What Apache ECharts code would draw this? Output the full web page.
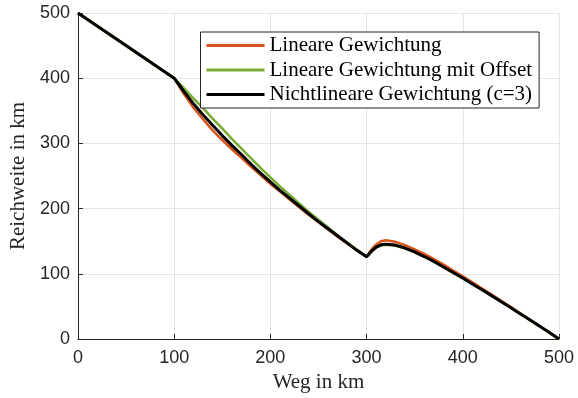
<!DOCTYPE html>
<html>
<head>
<meta charset="utf-8">
<script src="https://cdn.jsdelivr.net/npm/echarts@6/dist/echarts.min.js"></script>
<style>html,body{margin:0;padding:0;background:#fff}#c{width:578px;height:398px}</style>
</head>
<body>
<div id="c"></div>
<script>
var seriesNames = ['Lineare Gewichtung', 'Lineare Gewichtung mit Offset', 'Nichtlineare Gewichtung (c=3)'];
var xTicks = [0, 100, 200, 300, 400, 500];
var yTicks = [0, 100, 200, 300, 400, 500];
var weg = [0, 50, 100, 110, 120, 130, 140, 150, 160, 170, 180, 190, 200, 210, 220, 230, 240, 250, 260, 270, 280, 290, 300,
           303, 306, 310, 315, 320, 330, 340, 350, 360, 370, 380, 390, 400, 410, 420, 430, 440, 450, 460, 470, 480, 490, 500];
var linear = [500, 450, 400, 376, 355, 337, 320, 305, 291, 278, 264, 251, 238, 226, 214, 202, 190, 179, 168, 157, 146, 136, 126,
              133, 139, 145, 150, 151.5, 149, 144, 137.5, 130.5, 122.5, 114, 105, 96, 87, 77.5, 68, 58.5, 49, 39, 29.5, 19.5, 10, 0];
var linearOffset = [500, 450, 400, 385, 369, 354, 338, 323, 307, 292, 277, 262, 248, 234, 221, 208, 195, 183, 171, 159, 148, 137, 126,
                    130, 135, 140, 143.5, 144.5, 143, 139, 133, 126, 118.5, 110, 101.5, 93, 84.5, 75.5, 66.5, 57, 48, 38.5, 29, 19.5, 10, 0];
var nonlinear = [500, 450, 400, 380, 361, 344, 328, 312, 297, 283, 268, 254, 241, 228, 216, 204, 192, 180, 169, 158, 147, 136, 126,
                 131, 136, 141, 144.5, 145.5, 144, 139.5, 133.5, 126.5, 119, 110.5, 102, 93.5, 84.5, 75.5, 66.5, 57, 48, 38.5, 29, 19.5, 10, 0];
var colors = ['#D95319', '#77AC30', '#000000'];

function pairs(ys) { return weg.map(function (x, i) { return [x, ys[i]]; }); }

var chart = echarts.init(document.getElementById('c'), null, {renderer: 'canvas'});
var axisCol = '#262626';
chart.setOption({
  animation: false,
  grid: {left: 76, right: 19, top: 13, bottom: 56, containLabel: false},
  legend: {
    left: 200.5, top: 32, orient: 'vertical',
    backgroundColor: '#fff', borderColor: axisCol, borderWidth: 1, borderRadius: 0,
    padding: [3, 7, 3, 6], itemGap: 3.5, itemWidth: 58, itemHeight: 3, icon: 'rect',
    textStyle: {fontFamily: 'Liberation Serif', fontSize: 21, color: '#000', lineHeight: 21},
    data: seriesNames
  },
  xAxis: {
    type: 'value', min: 0, max: 500, interval: 100,
    name: 'Weg in km', nameLocation: 'middle', nameGap: 33,
    nameTextStyle: {fontFamily: 'Liberation Serif', fontSize: 21, color: axisCol},
    axisLine: {show: true, lineStyle: {color: axisCol, width: 1}},
    axisTick: {show: true, inside: true, length: 5, lineStyle: {color: axisCol}},
    axisLabel: {fontFamily: 'Liberation Sans', fontSize: 18, color: axisCol, margin: 10,
      formatter: function (v) { return xTicks.indexOf(v) >= 0 ? String(v) : ''; }},
    splitLine: {show: true, lineStyle: {color: '#e6e6e6', width: 1}}
  },
  yAxis: {
    type: 'value', min: 0, max: 500, interval: 100,
    name: 'Reichweite in km', nameLocation: 'middle', nameGap: 48,
    nameTextStyle: {fontFamily: 'Liberation Serif', fontSize: 21, color: axisCol},
    axisLine: {show: true, lineStyle: {color: axisCol, width: 1}},
    axisTick: {show: true, inside: true, length: 5, lineStyle: {color: axisCol}},
    axisLabel: {fontFamily: 'Liberation Sans', fontSize: 18, color: axisCol, margin: 8,
      formatter: function (v) { return yTicks.indexOf(v) >= 0 ? String(v) : ''; }},
    splitLine: {show: true, lineStyle: {color: '#e6e6e6', width: 1}}
  },
  series: [
    {name: seriesNames[0], type: 'line', data: pairs(linear), showSymbol: false, symbol: 'none',
     lineStyle: {color: colors[0], width: 2.5}, itemStyle: {color: colors[0]}, z: 2},
    {name: seriesNames[1], type: 'line', data: pairs(linearOffset), showSymbol: false, symbol: 'none',
     lineStyle: {color: colors[1], width: 2.5}, itemStyle: {color: colors[1]}, z: 3},
    {name: seriesNames[2], type: 'line', data: pairs(nonlinear), showSymbol: false, symbol: 'none',
     lineStyle: {color: colors[2], width: 3}, itemStyle: {color: colors[2]}, z: 4}
  ]
});
</script>
</body>
</html>
